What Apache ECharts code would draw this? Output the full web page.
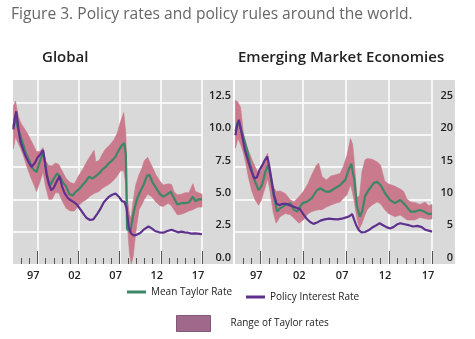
<!DOCTYPE html>
<html><head><meta charset="utf-8">
<script src="https://cdn.jsdelivr.net/npm/echarts@6/dist/echarts.min.js"></script>
<style>html,body{margin:0;padding:0;background:#fff}#c{width:475px;height:339px}</style>
</head><body><div id="c"></div>
<script>
// ---- Data (year, value) ----
const titleText = 'Figure 3. Policy rates and policy rules around the world.';
const panelTitles = ['Global', 'Emerging Market Economies'];
const seriesNames = ['Mean Taylor Rate', 'Policy Interest Rate', 'Range of Taylor rates'];
const minorYears = [1995,1996,1998,1999,2000,2001,2003,2004,2005,2006,2008,2009,2010,2011,2013,2014,2015,2016];
const majorYears = [1997,2002,2007,2012,2017];

const gPolicy = [[1994.1,10.4],[1994.25,11.2],[1994.45,11.8],[1994.7,10.5],[1994.95,9.45],[1995.3,8.8],[1995.6,8.3],[1996.0,7.8],[1996.3,7.5],[1996.7,7.8],[1997.0,8.2],[1997.4,8.5],[1997.7,8.8],[1997.9,8.0],[1998.1,7.0],[1998.4,6.2],[1998.7,5.7],[1999.0,5.9],[1999.3,6.3],[1999.7,6.8],[2000.0,6.0],[2000.3,5.5],[2000.7,5.1],[2001.0,4.95],[2001.4,4.8],[2001.8,4.6],[2002.3,4.17],[2002.7,3.8],[2003.0,3.55],[2003.4,3.4],[2003.8,3.45],[2004.3,3.9],[2004.7,4.3],[2005.1,4.8],[2005.7,5.2],[2006.1,5.35],[2006.5,5.45],[2006.9,5.2],[2007.3,4.85],[2007.6,4.8],[2007.85,4.3],[2008.1,2.9],[2008.35,2.4],[2008.7,2.2],[2009.0,2.25],[2009.5,2.4],[2010.0,2.7],[2010.5,2.9],[2010.9,2.75],[2011.3,2.55],[2011.8,2.45],[2012.3,2.42],[2012.8,2.55],[2013.3,2.65],[2013.7,2.55],[2014.1,2.45],[2014.5,2.5],[2014.9,2.45],[2015.3,2.42],[2015.7,2.35],[2016.2,2.37],[2016.7,2.33],[2017.0,2.3]];
const gMean = [[1994.1,10.6],[1994.3,11.3],[1994.6,10.6],[1994.9,10.0],[1995.3,9.2],[1995.6,8.6],[1996.0,8.0],[1996.4,7.4],[1996.9,7.1],[1997.3,7.9],[1997.7,8.6],[1998.0,7.6],[1998.3,6.5],[1998.6,6.1],[1999.0,6.6],[1999.4,7.0],[1999.7,6.8],[2000.1,6.3],[2000.5,6.0],[2000.9,5.4],[2001.3,5.3],[2001.7,5.6],[2002.1,5.8],[2002.5,6.1],[2002.9,6.4],[2003.3,6.75],[2003.7,6.6],[2004.1,6.8],[2004.5,7.0],[2004.9,7.3],[2005.3,7.5],[2005.7,7.8],[2006.1,8.0],[2006.5,8.3],[2006.9,8.8],[2007.3,9.2],[2007.55,9.35],[2007.75,8.5],[2007.9,2.7],[2008.3,2.5],[2008.7,4.0],[2009.1,5.0],[2009.5,5.6],[2009.9,6.1],[2010.3,6.8],[2010.6,6.9],[2011.0,6.3],[2011.5,5.8],[2011.9,5.4],[2012.3,5.2],[2012.8,5.4],[2013.2,5.6],[2013.6,5.1],[2014.0,4.6],[2014.5,4.7],[2014.9,4.7],[2015.4,4.75],[2015.9,5.2],[2016.2,4.85],[2016.6,5.0],[2017.0,5.0]];
// [year, low, high]
const gBand = [[1994.1,8.9,12.2],[1994.35,9.8,12.6],[1994.7,9.3,11.4],[1995.0,8.9,10.9],[1995.4,8.2,10.5],[1995.8,7.4,10.1],[1996.2,6.7,9.6],[1996.6,6.1,9.1],[1996.9,5.6,8.7],[1997.3,6.3,8.7],[1997.7,7.1,9.0],[1998.0,6.0,8.0],[1998.4,5.0,7.6],[1998.8,5.0,7.6],[1999.2,5.5,7.8],[1999.6,5.5,7.7],[2000.0,4.9,7.2],[2000.5,4.3,6.6],[2001.0,4.1,6.3],[2001.5,4.1,6.2],[2002.0,4.5,6.8],[2002.5,4.8,7.3],[2003.0,5.0,7.9],[2003.5,5.3,8.4],[2003.9,5.45,8.8],[2004.1,5.5,7.9],[2004.5,5.6,8.0],[2004.9,5.85,8.5],[2005.3,6.0,8.9],[2005.8,6.2,9.2],[2006.3,6.5,9.6],[2006.7,6.8,10.1],[2007.1,7.2,11.0],[2007.5,7.2,11.7],[2007.75,6.2,10.1],[2007.95,2.9,5.0],[2008.2,0.8,3.8],[2008.4,0.0,3.6],[2008.65,0.6,4.9],[2008.95,2.4,6.1],[2009.35,4.2,6.9],[2009.7,4.6,7.4],[2010.0,5.0,8.0],[2010.4,5.4,8.25],[2010.9,5.2,7.6],[2011.4,4.8,6.9],[2011.9,4.5,6.4],[2012.3,4.45,6.1],[2012.9,4.7,6.2],[2013.3,4.5,6.15],[2013.6,4.2,5.6],[2014.0,3.8,5.35],[2014.5,3.85,5.4],[2014.9,3.95,5.5],[2015.4,4.1,5.5],[2015.9,4.2,6.2],[2016.2,4.3,5.6],[2016.6,4.4,5.5],[2017.0,4.4,5.4]];

const ePolicy = [[1994.1,19.9],[1994.3,21.5],[1994.5,22.3],[1994.8,20.4],[1995.2,17.6],[1995.6,15.8],[1995.9,14.6],[1996.3,13.2],[1996.6,13.4],[1996.9,14.5],[1997.2,15.2],[1997.5,16.0],[1997.8,16.6],[1998.0,15.4],[1998.3,13.0],[1998.6,10.6],[1998.9,9.3],[1999.2,9.1],[1999.6,9.3],[2000.0,9.3],[2000.4,9.1],[2000.8,8.9],[2001.2,8.7],[2001.6,8.5],[2002.0,7.7],[2002.4,7.0],[2002.8,6.5],[2003.2,6.2],[2003.6,6.4],[2004.0,6.7],[2004.5,6.9],[2005.0,7.0],[2005.5,6.95],[2006.0,6.9],[2006.5,7.0],[2007.0,7.2],[2007.4,7.4],[2007.7,7.7],[2007.95,6.8],[2008.2,5.9],[2008.5,5.2],[2008.8,4.9],[2009.2,4.95],[2009.6,5.2],[2010.0,5.6],[2010.4,5.9],[2010.9,6.3],[2011.3,6.0],[2011.7,5.7],[2012.1,5.5],[2012.5,5.7],[2012.9,6.1],[2013.3,6.3],[2013.8,6.15],[2014.3,6.0],[2014.8,5.8],[2015.3,5.9],[2015.8,5.7],[2016.2,5.3],[2016.6,5.15],[2017.0,5.0]];
const eMean = [[1994.1,20.5],[1994.4,22.0],[1994.8,20.6],[1995.2,18.9],[1995.5,17.4],[1995.8,15.5],[1996.1,14.0],[1996.4,12.7],[1996.8,11.4],[1997.2,12.2],[1997.6,14.3],[1997.9,15.3],[1998.2,13.5],[1998.55,10.7],[1998.95,8.1],[1999.3,8.6],[1999.9,9.1],[2000.5,9.4],[2000.9,8.4],[2001.3,8.1],[2001.9,9.4],[2002.4,9.6],[2003.0,10.2],[2003.6,11.4],[2004.0,11.7],[2004.6,11.2],[2005.1,11.2],[2005.7,11.7],[2006.3,12.2],[2006.9,13.0],[2007.3,14.6],[2007.6,15.5],[2007.95,13.0],[2008.25,9.0],[2008.6,7.3],[2008.9,8.3],[2009.2,10.5],[2009.6,11.4],[2010.2,12.5],[2010.6,12.7],[2011.0,12.2],[2011.55,10.9],[2012.1,9.9],[2012.7,9.4],[2013.3,9.9],[2013.9,9.1],[2014.5,8.1],[2015.0,8.1],[2015.6,8.35],[2016.1,8.1],[2016.6,7.7],[2017.0,7.8]];
const eBand = [[1994.1,17.9,25.3],[1994.4,19.4,25.0],[1994.7,18.5,24.2],[1995.0,17.3,20.5],[1995.3,15.6,18.6],[1995.6,13.5,17.6],[1996.0,11.3,16.2],[1996.4,9.9,15.0],[1996.8,9.1,14.0],[1997.1,9.8,14.4],[1997.5,11.5,16.2],[1997.85,13.2,17.1],[1998.1,11.5,15.2],[1998.5,8.0,12.0],[1998.85,6.3,11.2],[1999.3,7.3,11.3],[1999.9,7.8,10.9],[2000.5,7.6,9.9],[2000.9,7.1,9.6],[2001.5,6.3,10.4],[2002.0,6.8,11.2],[2002.5,7.7,12.3],[2003.0,8.1,13.8],[2003.5,8.3,15.2],[2003.8,8.4,15.6],[2004.2,8.4,13.5],[2004.7,8.8,13.0],[2005.2,9.1,13.6],[2005.8,9.4,13.8],[2006.3,9.6,14.0],[2006.7,10.2,15.2],[2007.1,10.7,16.8],[2007.5,12.2,19.4],[2007.75,11.0,18.5],[2007.95,9.6,15.8],[2008.25,7.0,10.3],[2008.55,5.5,10.5],[2008.85,6.3,14.3],[2009.2,7.6,16.1],[2009.5,8.5,16.3],[2010.0,9.1,16.2],[2010.6,9.6,15.8],[2011.0,9.3,15.3],[2011.5,8.4,12.8],[2011.9,7.8,12.4],[2012.7,7.3,12.0],[2013.3,7.57,11.6],[2013.7,7.2,11.2],[2014.1,6.8,10.0],[2014.5,6.8,9.6],[2015.0,6.8,9.5],[2015.6,7.2,9.2],[2016.2,7.0,9.6],[2016.6,6.9,9.0],[2017.0,6.96,9.2]];

// ---- Styles ----
const FONT = 'Open Sans';
const BG = '#d9d9d9', PINK = '#c97a8c', GREEN = '#3d8769', PURPLE = '#5f318e';

function xAxes(gridIndex, major) {
  const base = {type:'value', gridIndex, position:'bottom', min:1994.05, max:2017, axisLine:{show:false}};
  if (!major) return Object.assign(base, {
    axisTick:{show:true, inside:true, length:6, customValues:minorYears, lineStyle:{color:'#555', width:1}},
    axisLabel:{show:false}, splitLine:{show:false}
  });
  return Object.assign(base, {
    axisTick:{show:true, inside:true, length:13, customValues:majorYears, lineStyle:{color:'#555', width:1}},
    axisLabel:{show:true, customValues:majorYears, margin:6, padding:[0,8,0,0],
      fontFamily:FONT, fontSize:11, fontWeight:600, color:'#222',
      formatter:v=>String(Math.round(v)%100).padStart(2,'0')},
    splitLine:{show:true, lineStyle:{color:'#fff', width:1.5}}
  });
}
function yAxis(gridIndex, max, interval, margin, dec) {
  return {type:'value', gridIndex, position:'right', min:0, max, interval,
    axisLine:{show:false}, axisTick:{show:false},
    axisLabel:{margin, align:'right', verticalAlign:'bottom', lineHeight:13, showMaxLabel:false,
      fontFamily:FONT, fontSize:11, fontWeight:600, color:'#222',
      formatter:v=> (Math.abs(v/interval-Math.round(v/interval))<1e-6) ? v.toFixed(dec) : ''},
    splitLine:{show:true, showMinLine:false, showMaxLine:false, lineStyle:{color:'#fff', width:1.5}}};
}
function bandRender(band) {
  return function(params, api) {
    if (params.dataIndex !== 0) return null;
    const pts = [];
    for (let i = 0; i < band.length; i++) pts.push(api.coord([band[i][0], band[i][2]]));
    for (let i = band.length - 1; i >= 0; i--) pts.push(api.coord([band[i][0], band[i][1]]));
    return {type:'polygon', shape:{points:pts}, style:{fill:PINK, stroke:PINK, lineWidth:0.6}};
  };
}
function panelSeries(xi, yi, band, mean, policy) {
  return [
    {name:seriesNames[2], type:'custom', xAxisIndex:xi, yAxisIndex:yi, silent:true,
      renderItem:bandRender(band), itemStyle:{color:PINK},
      encode:{x:0, y:[1,2]}, data: band, z:2},
    {name:seriesNames[0], type:'line', xAxisIndex:xi, yAxisIndex:yi, symbol:'none',
      lineStyle:{color:GREEN, width:2.2}, itemStyle:{color:GREEN}, data: mean, z:3},
    {name:seriesNames[1], type:'line', xAxisIndex:xi, yAxisIndex:yi, symbol:'none',
      lineStyle:{color:PURPLE, width:2.2}, itemStyle:{color:PURPLE}, data: policy, z:4}
  ];
}

const chart = echarts.init(document.getElementById('c'), null, {renderer:'canvas'});
const legendText = {fontFamily:FONT, fontSize:10, color:'#222'};
chart.setOption({
  animation:false,
  backgroundColor:'#fff',
  title:[
    {text:titleText, left:6, top:2, textStyle:{fontFamily:FONT, fontSize:15.6, fontWeight:'normal', color:'#666'}},
    {text:panelTitles[0], left:37, top:45, textStyle:{fontFamily:FONT, fontSize:15, fontWeight:600, color:'#222'}},
    {text:panelTitles[1], left:233, top:45, textStyle:{fontFamily:FONT, fontSize:15, fontWeight:600, color:'#222'}}
  ],
  graphic:[
    {type:'rect', shape:{x:202, y:80, width:31, height:184}, style:{fill:BG}, silent:true},
    {type:'rect', shape:{x:432, y:80, width:23, height:184}, style:{fill:BG}, silent:true}
  ],
  legend:[
    {data:[seriesNames[0]], left:127, top:287, padding:0, icon:'rect', itemWidth:19, itemHeight:3, selectedMode:false, textStyle:legendText},
    {data:[seriesNames[1]], left:246, top:292, padding:0, icon:'rect', itemWidth:19, itemHeight:3, selectedMode:false, textStyle:legendText},
    {data:[seriesNames[2]], left:176, top:315, padding:0, icon:'rect', itemWidth:34, itemHeight:16, selectedMode:false,
      itemStyle:{color:'#a0698c', borderColor:'#7d5a7a', borderWidth:1},
      textStyle:Object.assign({padding:[0,0,0,15]}, legendText)}
  ],
  grid:[
    {left:13, top:80, width:189, height:184, show:true, backgroundColor:BG, borderWidth:0},
    {left:235, top:80, width:197, height:184, show:true, backgroundColor:BG, borderWidth:0}
  ],
  xAxis:[xAxes(0,true), xAxes(0,false), xAxes(1,true), xAxes(1,false)],
  yAxis:[yAxis(0, 14.22, 2.5, 29, 1), yAxis(1, 28.44, 5, 21, 0)],
  series:[].concat(
    panelSeries(0, 0, gBand, gMean, gPolicy),
    panelSeries(2, 1, eBand, eMean, ePolicy)
  )
});
</script></body></html>
